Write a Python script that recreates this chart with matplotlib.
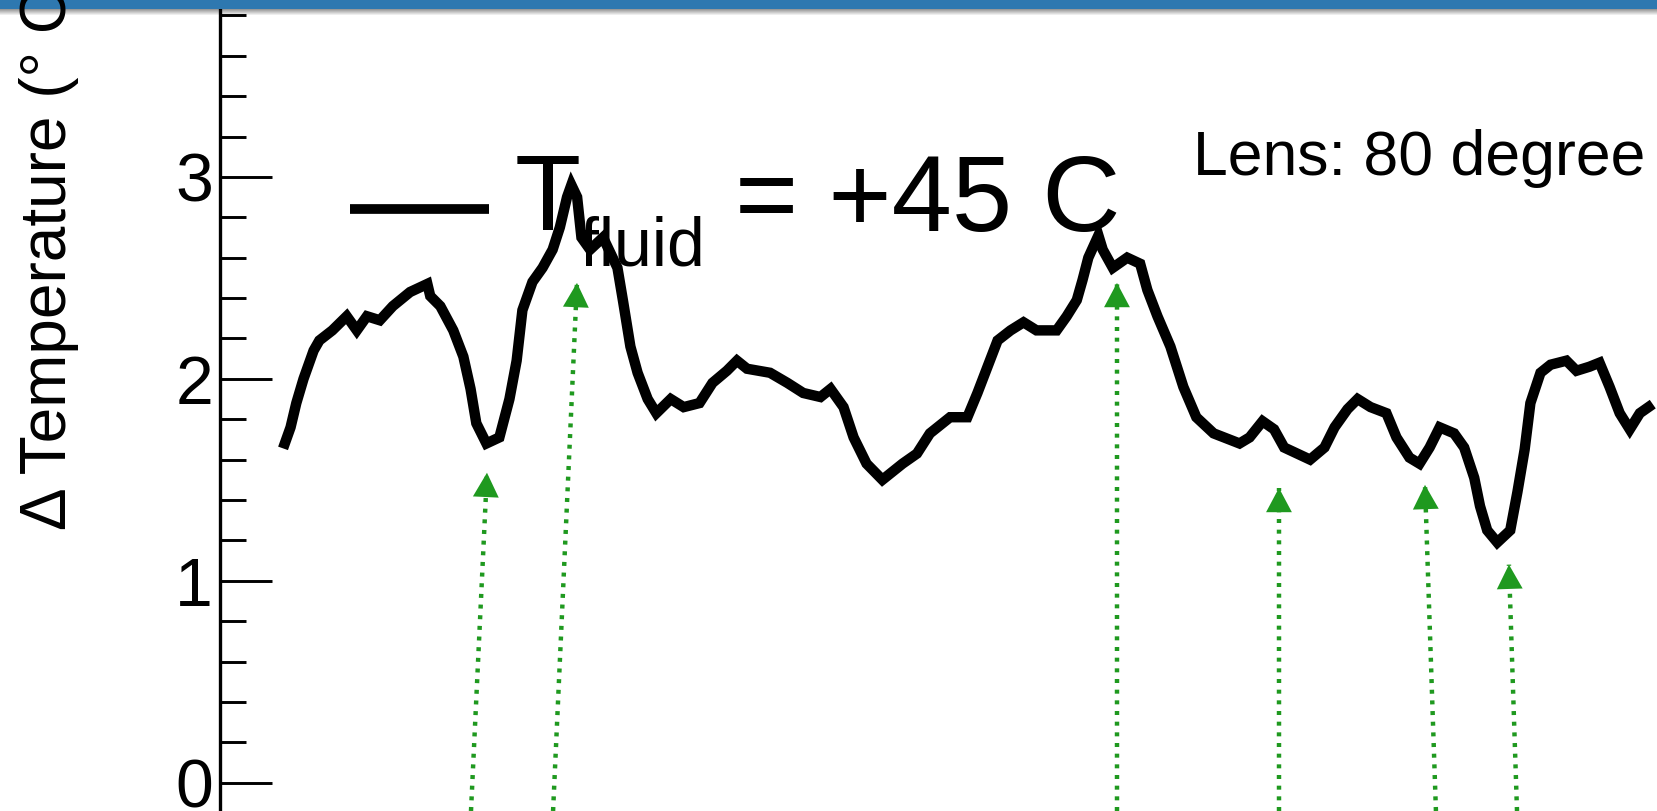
import matplotlib
matplotlib.use("Agg")
import matplotlib.pyplot as plt
import numpy as np
from matplotlib.ticker import MultipleLocator

plt.rcParams['font.family'] = ['Liberation Sans', 'DejaVu Sans']

W, H = 1657, 811
GREEN = "#1f991f"

# scan position (arbitrary units) and temperature difference (deg C)
pos = [4.5, 4.9, 5.3, 5.8, 6.5, 6.9, 7.8, 8.8, 9.5, 10.2, 11.1, 12.0, 13.2, 14.4,
       14.6, 15.3, 16.2, 16.9, 17.4, 17.8, 18.5, 19.4, 20.1, 20.6, 21.0, 21.7,
       22.4, 23.1, 23.6, 24.1, 24.4, 24.8, 25.1, 25.7, 26.6, 27.6, 28.0, 28.5,
       29.0, 29.7, 30.3, 31.3, 32.2, 33.3, 34.2, 35.2, 35.9, 36.6, 38.2, 39.4,
       40.5, 41.7, 42.4, 43.3, 44.0, 44.9, 46.0, 47.4, 48.4, 49.3, 50.7, 51.9,
       52.6, 53.3, 54.0, 54.9, 55.8, 56.7, 58.1, 58.8, 59.5, 59.9, 60.3, 61.0,
       61.3, 62.0, 63.0, 63.9, 64.4, 65.1, 66.0, 66.9, 67.8, 69.0, 70.8, 71.5,
       72.4, 73.2, 73.9, 75.7, 76.7, 77.4, 78.3, 79.0, 79.9, 81.0, 81.7, 82.6,
       83.3, 84.0, 84.7, 85.7, 86.4, 87.1, 87.5, 88.0, 88.7, 89.6, 90.1, 90.6,
       91.0, 91.7, 92.4, 93.5, 94.2, 95.1, 95.8, 96.5, 97.2, 97.9, 98.6, 99.2]
delta_t = [1.68, 1.76, 1.88, 2.00, 2.14, 2.19, 2.24, 2.31, 2.24, 2.31, 2.29, 2.36,
           2.43, 2.47, 2.41, 2.36, 2.24, 2.11, 1.95, 1.78, 1.68, 1.71, 1.90, 2.09,
           2.34, 2.48, 2.55, 2.64, 2.75, 2.90, 2.96, 2.90, 2.70, 2.64, 2.70, 2.55,
           2.38, 2.16, 2.03, 1.90, 1.83, 1.90, 1.86, 1.88, 1.98, 2.04, 2.09, 2.05,
           2.03, 1.98, 1.93, 1.91, 1.95, 1.86, 1.71, 1.58, 1.50, 1.58, 1.63, 1.73,
           1.81, 1.81, 1.93, 2.06, 2.19, 2.24, 2.28, 2.24, 2.24, 2.31, 2.39, 2.49,
           2.60, 2.71, 2.64, 2.55, 2.60, 2.57, 2.44, 2.31, 2.16, 1.96, 1.81, 1.73,
           1.68, 1.71, 1.79, 1.75, 1.66, 1.60, 1.66, 1.76, 1.85, 1.90, 1.86, 1.83,
           1.71, 1.61, 1.58, 1.66, 1.76, 1.73, 1.66, 1.51, 1.37, 1.25, 1.19, 1.25,
           1.44, 1.65, 1.88, 2.03, 2.07, 2.09, 2.04, 2.06, 2.08, 1.96, 1.83, 1.75,
           1.83, 1.86]

# green markers: arrow tip and where the dotted line leaves the bottom
arrow_tip_x = [18.54, 24.79, 62.29, 73.54, 83.68, 89.51]
arrow_tip_y = [1.535, 2.475, 2.475, 1.46, 1.475, 1.08]
arrow_foot_x = [17.43, 23.13, 62.29, 73.54, 84.44, 90.07]

Y_MIN, Y_MAX = -0.14, 3.876

fig = plt.figure(figsize=(W / 100, H / 100), dpi=100)
fig.patch.set_facecolor("white")
ax = fig.add_axes([220 / W, 0, 1440 / W, 1])
ax.set_xlim(0, 100)
ax.set_ylim(Y_MIN, Y_MAX)

ax.plot(pos, delta_t, color="black", lw=7.5, solid_joinstyle="miter", zorder=3)

for tx, ty, fx in zip(arrow_tip_x, arrow_tip_y, arrow_foot_x):
    ax.plot([fx, tx], [Y_MIN, ty], color=GREEN, lw=3.2,
            linestyle=(0, (0.9, 1.5)), dash_capstyle="butt", zorder=2)
    ax.annotate("", xy=(tx, ty), xytext=(fx, Y_MIN),
                arrowprops=dict(arrowstyle="-|>,head_length=17.5,head_width=9.3",
                                mutation_scale=1, lw=0, color=GREEN,
                                shrinkA=0, shrinkB=0), zorder=2)

for s in ["top", "right", "bottom"]:
    ax.spines[s].set_visible(False)
ax.spines["left"].set_linewidth(2.4)
ax.set_xticks([])
ax.yaxis.set_major_locator(MultipleLocator(1))
ax.yaxis.set_minor_locator(MultipleLocator(0.2))
ax.tick_params(axis="y", which="major", direction="in", length=37.5, width=2.1,
               labelsize=49, pad=5)
ax.tick_params(axis="y", which="minor", direction="in", length=18.7, width=2.1)
ax.patch.set_alpha(0)

# y label
fig.text(79 / W, 1 - 530 / H, "\u0394 Temperature (\u00b0 C)", rotation=90,
         ha="right", va="bottom", fontsize=46)

# legend drawn by hand
fig.add_artist(plt.Line2D([350 / W, 489 / W], [1 - 209 / H] * 2, color="black",
                          lw=7, solid_capstyle="butt"))
fig.text(515 / W, 1 - 230 / H, "T", fontsize=78, ha="left", va="baseline", zorder=5)
fig.text(580 / W, 1 - 265 / H, "fluid", fontsize=49, ha="left", va="baseline", zorder=5)
fig.text(735 / W, 1 - 231 / H, "= +45 C", fontsize=78, ha="left", va="baseline", zorder=5)

fig.text(1193 / W, 1 - 175 / H, "Lens: 80 degree", fontsize=45, ha="left", va="baseline")

# window title bar with a soft shadow at the top
bar = fig.add_axes([0, 1 - 16 / H, 1, 16 / H])
img = np.zeros((16, 1, 4))
img[:9, 0, :3] = np.array([46, 120, 176]) / 255
img[:9, 0, 3] = 1.0
img[9:, 0, 3] = np.linspace(0.4, 0.0, 7)
bar.imshow(img, aspect="auto", extent=(0, 1, 0, 1), interpolation="nearest")
bar.set_axis_off()
bar.patch.set_alpha(0)

fig.savefig("out.png", dpi=100, facecolor="white")
